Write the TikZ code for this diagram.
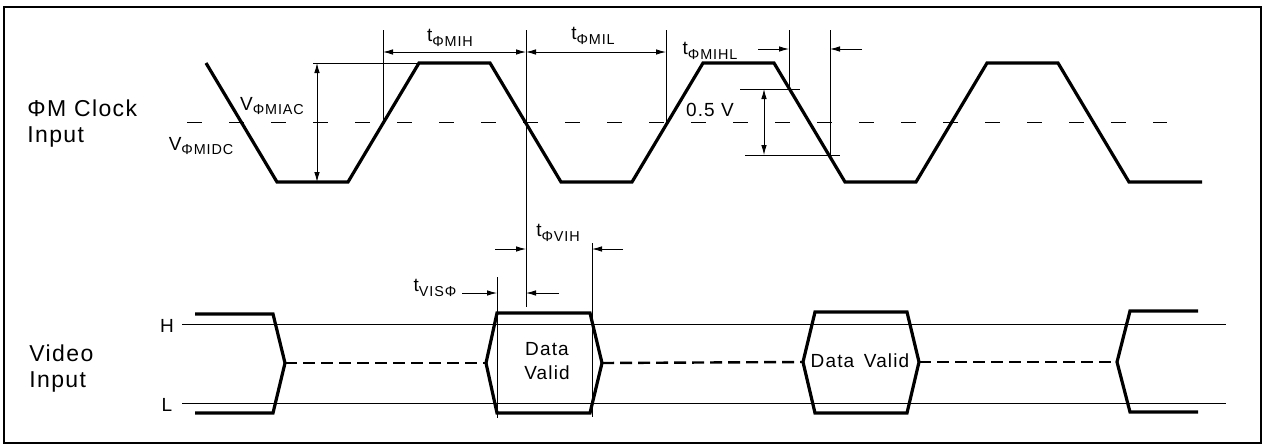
\documentclass[tikz,border=0pt]{standalone}
\usepackage{fontspec}
\setmainfont{Liberation Sans}[LetterSpace=6]
\usetikzlibrary{arrows.meta}
\newcommand{\lowlbl}[1]{\raisebox{-0.45ex}{\fontsize{7.2}{8}\selectfont #1}}
\tikzset{
  wave/.style={line width=1.6pt, line join=miter},
  thinline/.style={line width=0.45pt},
  dimarrow/.style={thinline, -{Latex[length=5pt,width=2.8pt]}},
  dimboth/.style={thinline, {Latex[length=5pt,width=2.8pt]}-{Latex[length=5pt,width=2.8pt]}},
  thresh/.style={thinline, dash pattern=on 7.5pt off 13.5pt},
  busdash/.style={line width=1.2pt, dash pattern=on 6pt off 3pt},
  signame/.style={font=\fontsize{11.5}{13}\selectfont, align=left, anchor=west, inner sep=0pt},
  tlabel/.style={font=\fontsize{9.5}{10}\selectfont, inner sep=0pt},
  buslabel/.style={font=\fontsize{9.5}{12}\selectfont, align=center, inner sep=0pt}
}
\begin{document}
\begin{tikzpicture}[x=0.5pt,y=-0.5pt]
  \useasboundingbox (0,0) rectangle (1263,445);
  % frame
  \draw[line width=0.9pt] (4,7) rectangle (1261,443);
  % signal names
  \node[signame] (clkname) at (27,124) {ΦM Clock\\Input};
  \node[signame] (vidname) at (29,369) {Video\\Input};

  % ---- clock input ----
  \draw[thresh] (187,122) -- (1167,122);
  \draw[wave] (206,63) -- (277,182) -- (348,182) -- (419,63) -- (490,63)
    -- (561,182) -- (632,182) -- (703,63) -- (774,63) -- (845,182)
    -- (916,182) -- (987,63) -- (1058,63) -- (1129,182) -- (1202,182);
  % AC amplitude and DC level
  \draw[thinline] (313,63) -- (419,63);
  \draw[dimboth] (317,63) -- (317,182);
  \node[tlabel] (vac) at (272,106) {V\lowlbl{ΦMIAC}};
  \node[tlabel] (vdc) at (201,146) {V\lowlbl{ΦMIDC}};
  % high and low times
  \draw[thinline] (383,30) -- (383,122);
  \draw[thinline] (526,30) -- (526,307);
  \draw[thinline] (666,30) -- (666,122);
  \draw[dimboth] (383,52) -- (526,52);
  \draw[dimboth] (526,52) -- (666,52);
  \node[tlabel] (tmih) at (450,38) {t\lowlbl{ΦMIH}};
  \node[tlabel] (tmil) at (593,36) {t\lowlbl{ΦMIL}};
  % fall time between the 0.5 V levels
  \draw[thinline] (789,30) -- (789,89);
  \draw[thinline] (830,30) -- (830,155);
  \draw[dimarrow] (758,49) -- (789,49);
  \draw[dimarrow] (862,49) -- (830,49);
  \node[tlabel] (tmihl) at (710,51) {t\lowlbl{ΦMIHL}};
  \draw[thinline] (740,89) -- (800,89);
  \draw[thinline] (745,155) -- (840,155);
  \draw[dimboth] (764,89) -- (764,155);
  \node[tlabel] (half) at (710,110) {0.5 V};

  % ---- video input ----
  \draw[thinline] (182,324) -- (1226,324);
  \draw[thinline] (182,403) -- (1226,403);
  \node[tlabel] (hlev) at (167,326) {H};
  \node[tlabel] (llev) at (167,405) {L};
  \draw[wave] (195,314) -- (273,314) -- (285,363) -- (273,413) -- (195,413);
  \draw[busdash] (285,363) -- (486,363);
  \draw[wave] (486,363) -- (497,313) -- (590,313) -- (602,363) -- (590,413) -- (497,413) -- cycle;
  \draw[busdash] (602,363) -- (803,362);
  \draw[wave] (803,362) -- (815,312) -- (907,312) -- (919,362) -- (907,413) -- (815,413) -- cycle;
  \draw[busdash] (919,362) -- (1117,362);
  \draw[wave] (1198,311) -- (1130,311) -- (1117,362) -- (1130,412) -- (1198,412);
  \node[buslabel] (valid1) at (547,361) {Data\\Valid};
  \node[buslabel] (valid2) at (860,361) {Data\, Valid};
  % setup and hold
  \draw[thinline] (497,277) -- (497,418);
  \draw[thinline] (592,243) -- (592,417);
  \draw[dimarrow] (462,293) -- (497,293);
  \draw[dimarrow] (559,293) -- (526,293);
  \node[tlabel] (tvis) at (435,288) {t\lowlbl{VISΦ}};
  \draw[dimarrow] (495,249) -- (526,249);
  \draw[dimarrow] (623,249) -- (592,249);
  \node[tlabel] (tvih) at (558,233) {t\lowlbl{ΦVIH}};
\end{tikzpicture}
\end{document}
